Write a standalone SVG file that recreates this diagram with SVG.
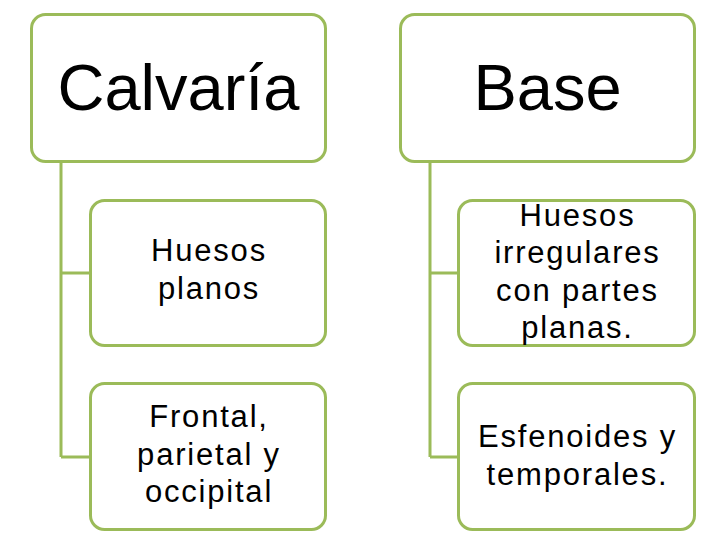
<svg xmlns="http://www.w3.org/2000/svg" width="720" height="540" viewBox="0 0 720 540">
<style>
.box{fill:#ffffff;stroke:#9BBB59;stroke-width:3}
.con{fill:none;stroke:#9BBB59;stroke-width:3}
text{font-family:'Liberation Sans',Arimo,Arial,Helvetica,sans-serif;fill:#000000;text-anchor:middle}
.big{font-size:65px}
.sm{font-size:31px;letter-spacing:1.8px}
</style>
<rect width="720" height="540" fill="#ffffff"/>
<g id="connectors">
<path class="con" d="M61,161 V457 M61,273 H90 M61,457 H90"/>
<path class="con" d="M430,161 V457 M430,273 H458 M430,457 H458"/>
</g>
<g id="calvaria">
<rect class="box" x="31.5" y="14.5" width="294" height="147" rx="14"/>
<text class="big" x="178.5" y="110">Calvaría</text>
</g>
<g id="base">
<rect class="box" x="400.5" y="14.5" width="294" height="147" rx="14"/>
<text class="big" x="547.5" y="110">Base</text>
</g>
<g id="huesos-planos">
<rect class="box" x="90.5" y="200.5" width="235" height="145" rx="14"/>
<text class="sm" x="209" y="261">Huesos</text>
<text class="sm" x="209" y="298.5">planos</text>
</g>
<g id="frontal">
<rect class="box" x="90.5" y="383.5" width="235" height="146" rx="14"/>
<text class="sm" x="209" y="427">Frontal,</text>
<text class="sm" x="209" y="464.5">parietal y</text>
<text class="sm" x="209" y="502">occipital</text>
</g>
<g id="huesos-irregulares">
<rect class="box" x="458.5" y="200.5" width="236" height="145" rx="14"/>
<text class="sm" x="577.5" y="225.5">Huesos</text>
<text class="sm" x="577.5" y="263">irregulares</text>
<text class="sm" x="577.5" y="300.5">con partes</text>
<text class="sm" x="577.5" y="338">planas.</text>
</g>
<g id="esfenoides">
<rect class="box" x="458.5" y="383.5" width="236" height="146" rx="14"/>
<text class="sm" x="577.5" y="447">Esfenoides y</text>
<text class="sm" x="577.5" y="484.5">temporales.</text>
</g>
</svg>
